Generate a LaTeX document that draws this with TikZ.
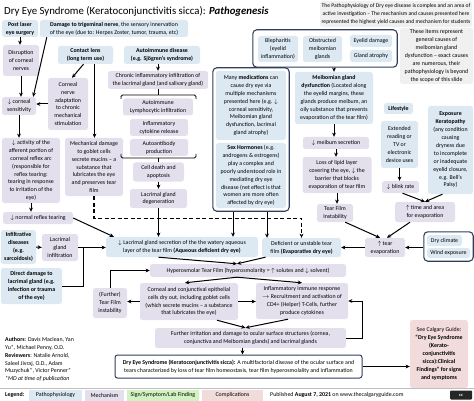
\documentclass[tikz,border=0pt]{standalone}
\usepackage{fontspec}
\setmainfont{Carlito}
\usetikzlibrary{fit,arrows.meta}
\newcommand{\boxfont}{\fontsize{5.9}{7.9}\selectfont}
\definecolor{pathoblue}{HTML}{DCE9F2}
\definecolor{mechpurple}{HTML}{E4DFEC}
\definecolor{signgreen}{HTML}{D3F2C2}
\definecolor{complpink}{HTML}{F2DCDB}
\definecolor{notegray}{HTML}{F0F0F0}
\definecolor{framenavy}{HTML}{2F3E5E}
\tikzset{
  box/.style={rounded corners=2.5pt, align=center, inner sep=1pt, font=\boxfont},
  patho/.style={box, fill=pathoblue},
  mech/.style={box, fill=mechpurple},
  note/.style={box, fill=notegray},
  compl/.style={box, fill=complpink},
  navyframe/.style={draw=framenavy, line width=1.1pt, rounded corners=4pt},
  arr/.style={line width=1pt, -{Stealth[length=4.2pt, width=3.8pt]}},
  brace/.style={line width=0.8pt, rounded corners=1.5pt},
}
\begin{document}
\begin{tikzpicture}[x=1pt, y=-1pt]
	\useasboundingbox (0,0) rectangle (474,401);
	
	\node[anchor=west, inner sep=0pt, font=\fontsize{10.8}{12}\selectfont] (title) at (4,11) {Dry Eye Syndrome (Keratoconjunctivitis sicca): \textbf{\textit{Pathogenesis}}};
	\node[note, font=\fontsize{5.6}{7.9}\selectfont, minimum width=152pt, minimum height=26pt] (topnote) at (396,14) {The Pathophysiology of Dry eye disease is complex and an area of\\active investigation – The mechanism and causes presented here\\represented the highest yield causes and mechanism for students};
	
	\node[patho, font=\boxfont\bfseries, minimum width=36pt, minimum height=17pt] (laser) at (20,28.5) {Post laser\\eye surgery};
	\node[patho, minimum width=148pt, minimum height=17pt] (trigem) at (114,28.5) {\textbf{Damage to trigeminal nerve}, the sensory innervation\\of the eye (due to: Herpes Zoster, tumor, trauma, etc)};
	\node[mech, minimum width=36pt, minimum height=31pt] (disrupt) at (21,60.5) {Disruption\\of corneal\\nerves};
	\node[patho, font=\boxfont\bfseries, minimum width=55pt, minimum height=18pt] (lens) at (85.5,55) {Contact lens\\(long term use)};
	\node[patho, font=\boxfont\bfseries, minimum width=76pt, minimum height=18pt] (autoimm) at (162,55) {Autoimmune disease\\(e.g. Sjögren's syndrome)};
	\node[mech, minimum width=100pt, minimum height=18pt] (chronic) at (158,80) {Chronic inflammatory infiltration of\\the lacrimal gland (and salivary gland)};
	\node[mech, minimum width=40pt, minimum height=52pt] (adapt) at (68,104) {Corneal\\nerve\\adaptation\\to chronic\\mechanical\\stimulation};
	\node[mech, minimum width=34pt, minimum height=18pt] (corsens) at (19,106) {$\downarrow$ corneal\\sensitivity};
	\node[mech, minimum width=70pt, minimum height=17pt] (lympho) at (158,107) {Autoimmune\\Lymphocytic infiltration};
	\node[mech, minimum width=58pt, minimum height=17pt] (cyto) at (159,127.5) {Inflammatory\\cytokine release};
	\node[mech, minimum width=58pt, minimum height=17pt] (antib) at (159,147.5) {Autoantibody\\production};
	\node[mech, minimum width=51pt, minimum height=19pt] (death) at (158.5,172) {Cell death and\\apoptosis};
	\node[mech, minimum width=57pt, minimum height=19pt] (lacdeg) at (158.5,198.5) {Lacrimal gland\\degeneration};
	\node[mech, minimum width=58pt, minimum height=58pt] (mechdmg) at (94,167) {Mechanical damage\\to goblet cells\\secrete mucins – a\\substance that\\lubricates the eye\\and preserves tear\\film};
	\node[mech, minimum width=58pt, minimum height=65pt] (afferent) at (31,170.5) {$\downarrow$ activity of the\\afferent portion of\\corneal reflex arc\\(responsible for\\reflex tearing:\\tearing in response\\to irritation of the\\eye)};
	\node[mech, minimum width=70pt, minimum height=12pt] (reflex) at (38,218) {$\downarrow$ normal reflex tearing};
	
	\node[patho, minimum width=70pt, minimum height=69pt] (meds) at (251,105.5) {Many \textbf{medications} can\\cause dry eye via\\multiple mechanisms\\presented here (e.g. $\downarrow$\\corneal sensitivity,\\Meibomian gland\\dysfunction, lacrimal\\gland atrophy)};
	\node[patho, minimum width=70pt, minimum height=65pt] (hormones) at (251,175.5) {\textbf{Sex Hormones} (e.g.\\androgens \& estrogens)\\play a complex and\\poorly understood role in\\mediating dry eye\\disease (net effect is that\\women are more often\\affected by dry eye)};
	\node[navyframe, fit=(meds)(hormones), inner sep=3pt] (medframe) {};
	
	\node[patho, minimum width=40pt, minimum height=26pt] (bleph) at (278,49) {Blepharitis\\(eyelid\\inflammation)};
	\node[patho, minimum width=39pt, minimum height=26pt] (obstruct) at (322.5,49) {Obstructed\\meibomian\\glands};
	\node[patho, minimum width=42pt, minimum height=12pt] (eyelid) at (371,41) {Eyelid damage};
	\node[patho, minimum width=42pt, minimum height=12pt] (atrophy) at (371,56) {Gland atrophy};
	\node[navyframe, fit=(bleph)(obstruct)(eyelid)(atrophy), inner sep=5pt] (glandframe) {};
	\node[note, minimum width=73pt, minimum height=56pt] (causenote) at (436.5,56) {These items represent\\general causes of\\meibomian gland\\dysfunction – exact causes\\are numerous, their\\pathophysiology is beyond\\the scope of this slide};
	
	\node[patho, minimum width=78pt, minimum height=52pt] (meib) at (334,98) {\textbf{Meibomian gland}\\\textbf{dysfunction} (Located along\\the eyelid margins, these\\glands produce meibum, an\\oily substance that prevents\\evaporation of the tear film)};
	\node[mech, minimum width=66pt, minimum height=12pt] (meibum) at (336,143) {$\downarrow$ meibum secretion};
	\node[mech, minimum width=69pt, minimum height=36pt] (lipid) at (337,175) {Loss of lipid layer\\covering the eye, $\downarrow$ the\\barrier that blocks\\evaporation of tear film};
	\node[mech, minimum width=36pt, minimum height=18pt] (instab) at (335,213) {Tear Film\\Instability};
	
	\node[patho, font=\boxfont\bfseries, minimum width=29pt, minimum height=11pt] (lifestyle) at (398.5,108.5) {Lifestyle};
	\node[patho, minimum width=37pt, minimum height=47pt] (reading) at (399.5,144.5) {Extended\\reading or\\TV or\\electronic\\device uses};
	\node[mech, minimum width=37pt, minimum height=12pt] (blink) at (400.5,187) {$\downarrow$ blink rate};
	\node[patho, minimum width=45pt, minimum height=88pt] (exposure) at (450.5,150) {\textbf{Exposure}\\\textbf{Keratopathy}\\(any condition\\causing\\dryness due\\to incomplete\\or inadequate\\eyelid closure,\\e.g. Bell's\\Palsy)};
	\node[mech, minimum width=60pt, minimum height=20pt] (exptime) at (425,212) {$\uparrow$ time and area\\for evaporation};
	\node[mech, minimum width=40pt, minimum height=19pt] (tearevap) at (385,247.5) {$\uparrow$ tear\\evaporation};
	\node[patho, minimum width=35pt, minimum height=11pt] (climate) at (444.5,240.5) {Dry climate};
	\node[patho, minimum width=43pt, minimum height=10pt] (wind) at (448.5,253) {Wind exposure};
	\node[navyframe, fit=(climate)(wind), inner sep=3pt] (envframe) {};
	
	\node[patho, minimum width=152pt, minimum height=20pt] (lacsec) at (182,247) {$\downarrow$ Lacrimal gland secretion of the the watery aqueous\\layer of the tear film \textbf{(Aqueous deficient dry eye)}};
	\node[patho, minimum width=79pt, minimum height=19pt] (deficient) at (301.5,247.5) {Deficient or unstable tear\\film \textbf{(Evaporative dry eye)}};
	\node[patho, font=\boxfont\bfseries, minimum width=35pt, minimum height=34pt] (infiltr) at (18.5,247) {Infiltrative\\diseases\\(e.g.\\sarcoidosis)};
	\node[mech, minimum width=36pt, minimum height=27pt] (lacinf) at (60,247.5) {Lacrimal\\gland\\infiltration};
	\node[patho, font=\boxfont\bfseries, minimum width=61pt, minimum height=36pt] (direct) at (31.5,286) {Direct damage to\\lacrimal gland (e.g.\\infection or trauma\\of the eye)};
	
	\node[mech, minimum width=196pt, minimum height=13pt] (hyper) at (248,270.5) {Hyperosmolar Tear Film (hyperosmolarity = $\uparrow$ solutes and $\downarrow$ solvent)};
	\node[mech, minimum width=98pt, minimum height=37pt] (epith) at (189,301.5) {Corneal and conjunctival epithelial\\cells dry out, including goblet cells\\(which secrete mucins – a substance\\that lubricates the eye)};
	\node[mech, minimum width=34pt, minimum height=30pt] (further) at (110,303) {(Further)\\Tear Film\\instability};
	\node[mech, minimum width=92pt, minimum height=36pt] (inflam) at (302,301) {Inflammatory immune response\\$\rightarrow$ Recruitment and activation of\\CD4+ (Helper) T-Cells, further\\produce cytokines};
	\node[mech, minimum width=191pt, minimum height=20pt] (irrit) at (250.5,338) {Further irritation and damage to ocular surface structures (cornea,\\conjunctiva and Meibomian glands) and lacrimal glands};
	\node[box, fill=white, draw=framenavy, line width=1pt, minimum width=247pt, minimum height=23pt] (dryeye) at (238.5,366.5) {\textbf{Dry Eye Syndrome (Keratoconjunctivitis sicca):} A multifactorial disease of the ocular surface and\\tears characterized by loss of tear film homeostasis, tear film hyperosmolality and inflammation};
	\node[compl, minimum width=58pt, minimum height=68pt] (seealso) at (439,354) {See Calgary Guide:\\\textbf{“Dry Eye Syndrome}\\\textbf{(Kerato-}\\\textbf{conjunctivitis}\\\textbf{sicca):Clinical}\\\textbf{Findings” for signs}\\\textbf{and symptoms}};
	
	\node[anchor=north west, align=left, inner sep=0pt, font=\boxfont] (authors) at (5,337) {\textbf{Authors}: Davis Maclean, Yan\\Yu*, Michael Penny, O.D.\\\textbf{Reviewers}: Natalie Arnold,\\Saleel Jivraj, O.D., Adam\\Muzychuk*, Victor Penner*\\\textit{*MD at time of publication}};
	
	\draw[gray!50, line width=0.5pt] (0,388.5) -- (474,388.5);
	\node[anchor=west, inner sep=0pt, font=\boxfont\bfseries] (legend) at (5,395) {Legend:};
	\node[fill=pathoblue, inner sep=0pt, minimum width=53pt, minimum height=11pt, font=\boxfont] (lgpatho) at (55.5,395) {Pathophysiology};
	\node[fill=mechpurple, inner sep=0pt, minimum width=39pt, minimum height=11pt, font=\boxfont] (lgmech) at (104.5,395) {Mechanism};
	\node[fill=signgreen, inner sep=0pt, minimum width=72pt, minimum height=11pt, font=\boxfont] (lgsign) at (163,395) {Sign/Symptom/Lab Finding};
	\node[fill=complpink, inner sep=0pt, minimum width=61pt, minimum height=11pt, font=\boxfont] (lgcompl) at (232.5,395) {Complications};
	\node[anchor=west, inner sep=0pt, font=\boxfont] (published) at (270,395) {Published \textbf{August 7, 2021} on www.thecalgaryguide.com};
	\node[fill=black!85, text=white, rounded corners=1pt, inner sep=0pt, minimum width=22pt, minimum height=9pt, font=\fontsize{4.5}{5}\selectfont\bfseries] (cclogo) at (461,395) {cc};
	
	\draw[arr] (laser.south) -- (laser.south |- disrupt.north);
	\draw[arr] ([xshift=7pt]trigem.south west) -- ([xshift=-3pt]corsens.north east);
	\draw[arr] (disrupt.south) -- (disrupt.south |- corsens.north);
	\draw[arr] ([xshift=-2pt]lens.south) -- ([xshift=4pt]adapt.north);
	\draw[arr] ([xshift=9pt]lens.south) -- ([xshift=9pt]lens.south |- mechdmg.north);
	\draw[arr] (adapt.west) -- (adapt.west -| corsens.east);
	\draw[arr] (corsens.south) -- (corsens.south |- afferent.north);
	\draw[arr] (afferent.south) -- (afferent.south |- reflex.north);
	\draw[arr] (reflex.east) -- ([xshift=8pt]lacsec.north west);
	\draw[arr] (chronic.north |- autoimm.south) -- (chronic.north);
	
	\coordinate (topbrace) at (158,95);
	\coordinate (lowbrace) at (158.5,158);
	\draw[brace] (chronic.south) -- (topbrace);
	\draw[brace] (121,99) -- (121,95) -- (196,95) -- (196,99);
	\draw[brace] (121,154) -- (121,158) -- (196,158) -- (196,154);
	\draw[brace] (lowbrace) -- (death.north);
	\draw[arr] (death.south) -- (lacdeg.north);
	\draw[arr] (lacdeg.south) -- (lacdeg.south |- lacsec.north);
	\draw[arr, dash pattern=on 4pt off 2.5pt, line width=1.3pt] (mechdmg.south) -- ++(0,22) -| (deficient.north);
	\draw[arr] ([xshift=-18pt]medframe.south) -- ([xshift=-18pt]medframe.south |- lacsec.north);
	\draw[arr] ([xshift=16pt]medframe.south) -- ([xshift=16pt]medframe.south |- deficient.north);
	
	\draw[arr] (meib.north |- glandframe.south) -- (meib.north);
	\draw[arr] (meib.south) -- (meib.south |- meibum.north);
	\draw[arr] (meibum.south) -- (meibum.south |- lipid.north);
	\draw[arr] (lipid.south) -- (lipid.south |- instab.north);
	\draw[arr] ([xshift=-8pt]instab.south east) -- ([xshift=-5pt]tearevap.north);
	\draw[arr] (tearevap.west) -- (deficient.east);
	\draw[arr] (reading.south) -- (reading.south |- blink.north);
	\draw[arr] ([xshift=2pt]blink.south) -- (exptime.north);
	\draw[arr] ([xshift=-8pt]exposure.south) -- (exptime.north);
	\draw[arr] ([xshift=-15pt]exptime.south) -- ([xshift=2pt]tearevap.north);
	\draw[arr] (envframe.west |- tearevap.east) -- (tearevap.east);
	
	\coordinate (lacjoin) at (83,247.5);
	\draw[arr] (infiltr.east) -- (lacinf.west);
	\draw[line width=1pt] (direct.east) -| (lacjoin);
	\draw[arr] (lacinf.east) -- (lacjoin -| lacsec.west);
	
	\draw[arr] (lacdeg.south |- lacsec.south) -- ([xshift=-11pt]hyper.north);
	\draw[arr] ([xshift=-36pt]deficient.south) -- ([xshift=-11pt]hyper.north);
	\draw[arr] ([xshift=-11pt]hyper.south) -- ([xshift=-4pt]epith.north);
	\draw[arr] ([xshift=-11pt]hyper.south) -- (inflam.north);
	\draw[arr] (epith.east) -- (epith.east -| inflam.west);
	\draw[arr] (epith.west) -- (epith.west -| further.east);
	\draw[arr] (further.north) |- (hyper.west);
	\draw[arr] ([xshift=28pt]epith.south) -- ([xshift=-5pt]irrit.north);
	\draw[arr] ([xshift=-14pt]inflam.south) -- ([xshift=-5pt]irrit.north);
	\draw[arr] (irrit.east) -- ++(16,0) |- (inflam.east);
	\draw[arr] ([xshift=-8pt]irrit.south) -- ([xshift=-8pt]irrit.south |- dryeye.north);
	\draw[arr] (dryeye.east) -- (dryeye.east -| seealso.west);
\end{tikzpicture}
\end{document}
